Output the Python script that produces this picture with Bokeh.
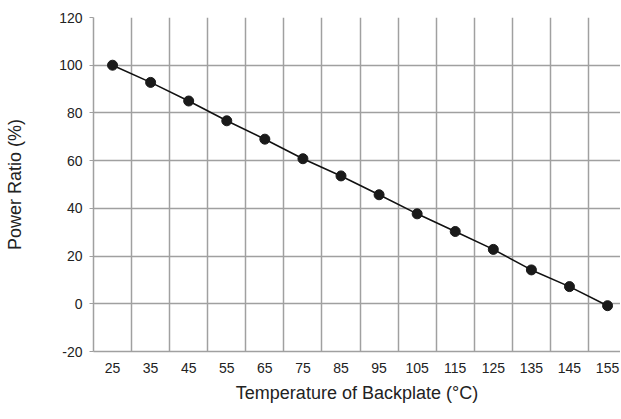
from bokeh.plotting import figure
from bokeh.models import FixedTicker, Range1d
from bokeh.embed import file_html
from bokeh.resources import INLINE

temps = [25, 35, 45, 55, 65, 75, 85, 95, 105, 115, 125, 135, 145, 155]
power_ratio = [100, 92.8, 85, 76.7, 69, 60.8, 53.6, 45.7, 37.7, 30.3, 22.8, 14.2, 7.2, -0.8]
y_ticks = [-20, 0, 20, 40, 60, 80, 100, 120]
x_grid = [30, 40, 50, 60, 70, 80, 90, 100, 110, 120, 130, 140, 150]

FONT = "Liberation Sans"
GRID = "#a0a0a0"
TEXT = "#222222"

p = figure(width=620, height=419, output_backend="svg", toolbar_location=None,
           x_range=Range1d(20, 158.4), y_range=Range1d(-20, 120),
           min_border_left=93, min_border_right=0, min_border_top=17, min_border_bottom=68)
p.outline_line_color = None
p.background_fill_color = "white"

# gridlines
p.xgrid.ticker = FixedTicker(ticks=x_grid)
p.xgrid.grid_line_color = GRID
p.xgrid.grid_line_width = 1.5
p.ygrid.ticker = FixedTicker(ticks=y_ticks)
p.ygrid.grid_line_color = GRID
p.ygrid.grid_line_width = 1.5

# x axis
p.xaxis.ticker = FixedTicker(ticks=temps)
p.xaxis.axis_line_color = GRID
p.xaxis.axis_line_width = 1.5
p.xaxis.major_tick_line_color = None
p.xaxis.minor_tick_line_color = None
p.xaxis.major_label_text_font = FONT
p.xaxis.major_label_text_font_size = "14px"
p.xaxis.major_label_text_color = TEXT
p.xaxis.major_label_standoff = 5
p.xaxis.axis_label = "Temperature of Backplate (°C)"
p.xaxis.axis_label_text_font = FONT
p.xaxis.axis_label_text_font_size = "18px"
p.xaxis.axis_label_text_font_style = "normal"
p.xaxis.axis_label_text_color = TEXT
p.xaxis.axis_label_standoff = 7

# y axis
p.yaxis.ticker = FixedTicker(ticks=y_ticks)
p.yaxis.major_label_overrides = {-20: "-20"}
p.yaxis.axis_line_color = GRID
p.yaxis.axis_line_width = 1.5
p.yaxis.major_tick_line_color = GRID
p.yaxis.major_tick_in = 0
p.yaxis.major_tick_out = 4
p.yaxis.minor_tick_line_color = None
p.yaxis.major_label_text_font = FONT
p.yaxis.major_label_text_font_size = "14px"
p.yaxis.major_label_text_color = TEXT
p.yaxis.major_label_standoff = 7
p.yaxis.axis_label = "Power Ratio (%)"
p.yaxis.axis_label_text_font = FONT
p.yaxis.axis_label_text_font_size = "18px"
p.yaxis.axis_label_text_font_style = "normal"
p.yaxis.axis_label_text_color = TEXT
p.yaxis.axis_label_standoff = 31

p.line(temps, power_ratio, line_color="#111111", line_width=1.6)
p.scatter(temps, power_ratio, size=10, fill_color="#1a1a1a", line_color="#1a1a1a")

open("out.html", "w").write(file_html(p, INLINE))
